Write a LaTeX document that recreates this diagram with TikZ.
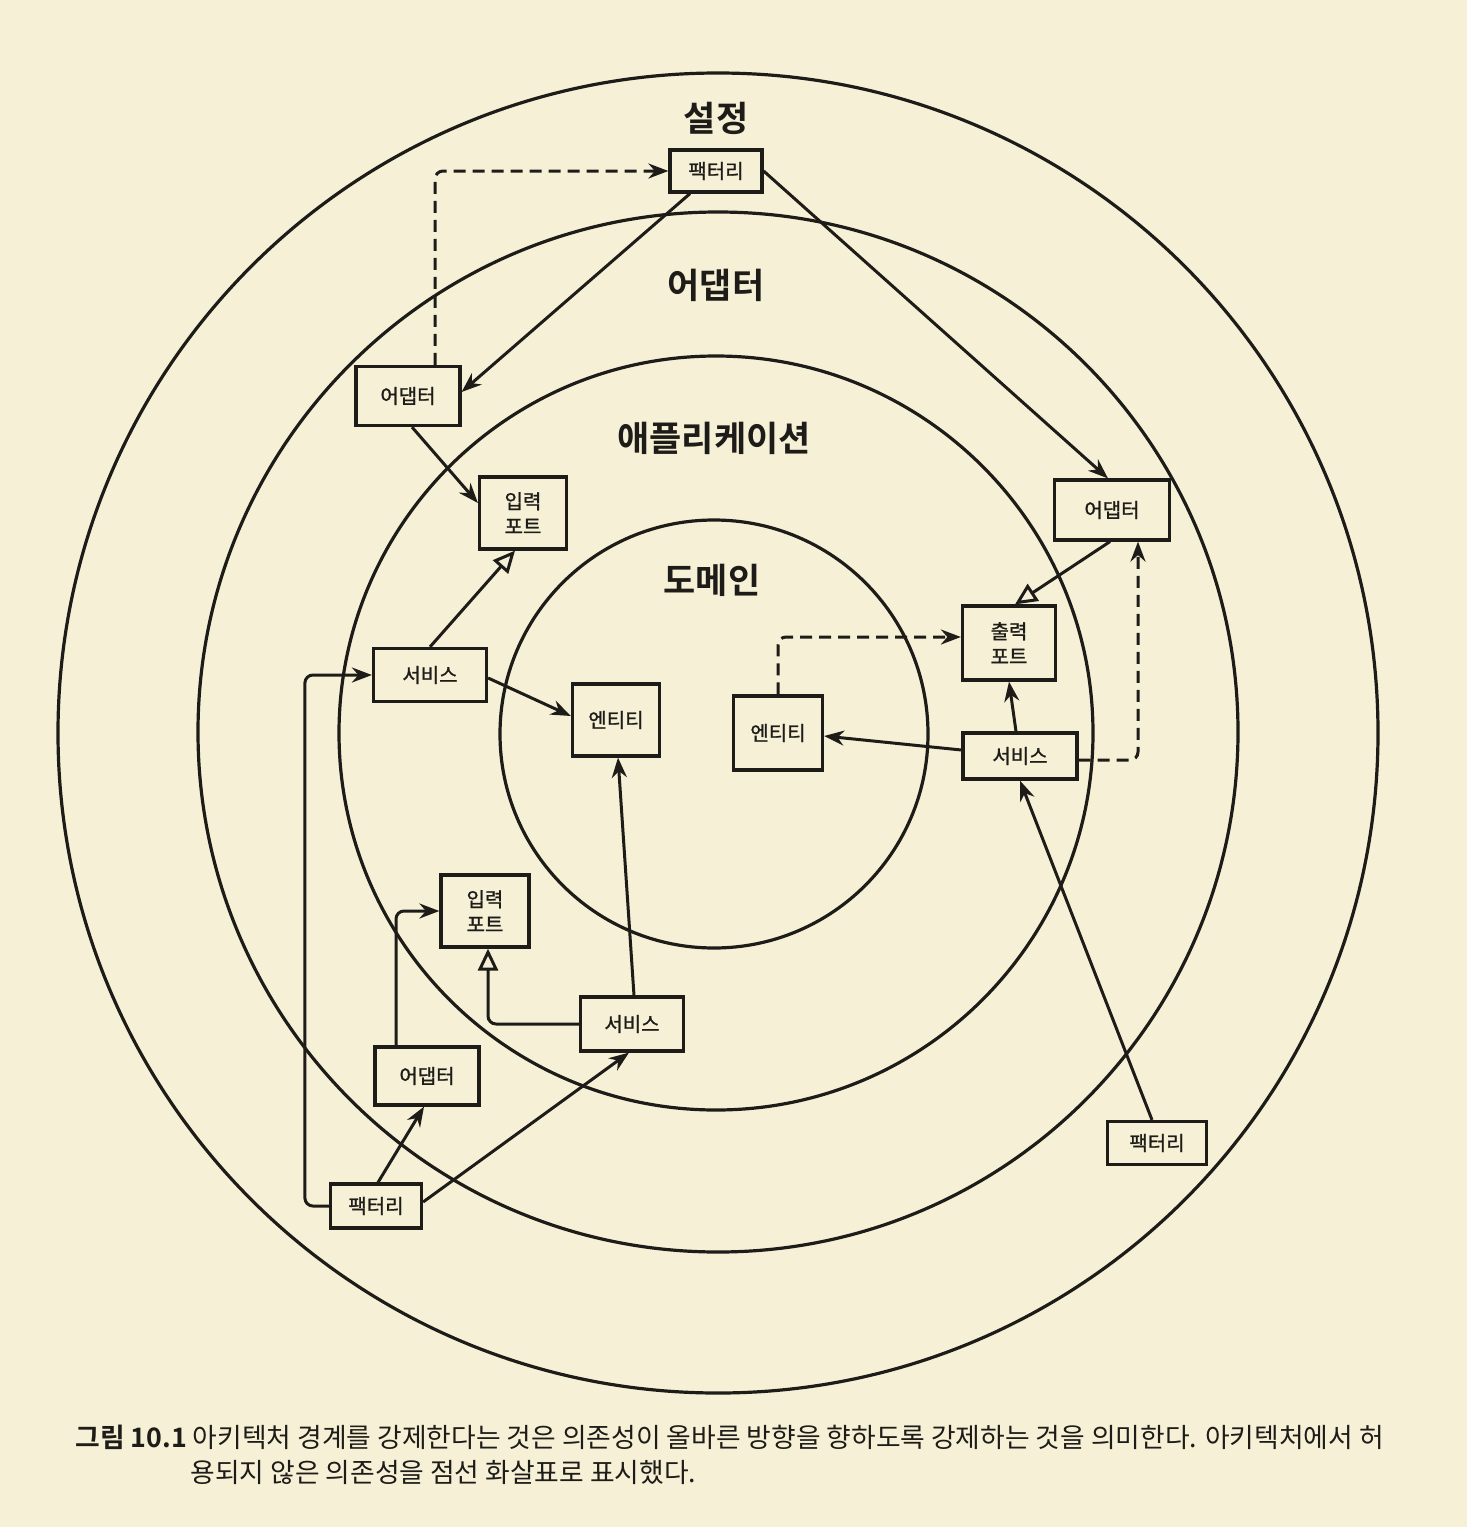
\documentclass[tikz,border=0pt]{standalone}
\usepackage{fontspec}
\setmainfont{Noto Sans CJK KR}[BoldFont={Noto Sans CJK KR Bold}]
\newfontfamily\boxfont{Noto Sans CJK KR}[FakeBold=1.2]
\usetikzlibrary{arrows.meta}
\definecolor{paper}{RGB}{246,241,214}
\definecolor{ink}{RGB}{30,28,24}

\begin{document}
\begin{tikzpicture}[
      x=0.5pt,y=-0.5pt,
      >={Stealth[length=10pt,width=7.5pt]},
      ring/.style={draw=ink,line width=1.6pt},
      layer/.style={text=ink,inner sep=0pt,
        font=\bfseries\fontsize{17.5}{20}\selectfont},
      comp/.style={draw=ink,line width=1.6pt,fill=paper,text=ink,
        align=center,inner sep=0pt,
        font=\boxfont\fontsize{10}{12.5}\selectfont},
      dep/.style={draw=ink,line width=1.5pt,->},
      impl/.style={draw=ink,line width=1.5pt,
        -{Triangle[open,length=11pt,width=10pt]}},
      bad/.style={dep,dash pattern=on 6pt off 3.5pt},
      caption/.style={text=ink,inner sep=0pt,anchor=west,
        font=\fontsize{13.4}{16}\selectfont}
    ]
    % paper and the four rings
    \fill[paper] (0,0) rectangle (1467,1527);
    \draw[ring] (718,733) circle[radius=660];
    \draw[ring] (718,732) circle[radius=520];
    \draw[ring] (716,733) circle[radius=377];
    \draw[ring] (714,734) circle[radius=214];
    % ring names
    \node[layer] (cfg) at (716,118) {설정};
    \node[layer] (adp) at (716,285) {어댑터};
    \node[layer] (app) at (714,438) {애플리케이션};
    \node[layer] (dom) at (712,580) {도메인};
    % upper half
    \node[comp,minimum width=46pt,minimum height=21pt] (facT) at (716,171) {팩터리};
    \node[comp,minimum width=52pt,minimum height=29.5pt] (adL) at (408,396) {어댑터};
    \node[comp,minimum width=43.5pt,minimum height=36pt] (ipT) at (523,513) {입력\\포트};
    \node[comp,minimum width=57.5pt,minimum height=30pt] (adR) at (1112,510) {어댑터};
    \node[comp,minimum width=46.5pt,minimum height=37pt] (outP) at (1009,643) {출력\\포트};
    \node[comp,minimum width=56.5pt,minimum height=26.5pt] (svL) at (430,675) {서비스};
    \node[comp,minimum width=43.5pt,minimum height=36pt] (entL) at (616,720) {엔티티};
    \node[comp,minimum width=44.5pt,minimum height=37pt] (entR) at (778,733) {엔티티};
    \node[comp,minimum width=57pt,minimum height=23pt] (svR) at (1020,756) {서비스};
    % lower half
    \node[comp,minimum width=44pt,minimum height=36pt] (ipB) at (485,911) {입력\\포트};
    \node[comp,minimum width=51.5pt,minimum height=27pt] (svB) at (632,1024) {서비스};
    \node[comp,minimum width=52pt,minimum height=29pt] (adB) at (427,1076) {어댑터};
    \node[comp,minimum width=45.5pt,minimum height=22pt] (facL) at (376,1206) {팩터리};
    \node[comp,minimum width=49.5pt,minimum height=21.5pt] (facR) at (1157,1143) {팩터리};
    % dependencies, top
    \draw[bad,rounded corners=4pt] ([xshift=13.5pt]adL.north) |- (facT.west);
    \draw[dep] ([xshift=-13pt]facT.south) -- ([yshift=2pt]adL.east);
    \draw[dep] (facT.east) -- ([xshift=-2pt]adR.north);
    \draw[dep] ([xshift=2pt]adL.south) -- ([yshift=5pt]ipT.west);
    \draw[impl] (svL.north) -- ([xshift=-4pt]ipT.south);
    \draw[dep] ([yshift=-1.5pt]svL.east) -- ([yshift=2pt]entL.west);
    % dependencies, right
    \draw[impl] ([xshift=-1pt]adR.south) -- ([xshift=3pt]outP.north);
    \draw[bad,rounded corners=4pt] (entR.north) |- ([yshift=3pt]outP.west);
    \draw[dep] ([xshift=-2pt]svR.north) -- (outP.south);
    \draw[dep] ([yshift=3pt]svR.west) -- ([yshift=-1.5pt]entR.east);
    \draw[bad,rounded corners=4pt] ([yshift=-2pt]svR.east) -| ([xshift=13pt]adR.south);
    \draw[dep] ([xshift=-2.5pt]facR.north) -- (svR.south);
    % dependencies, bottom
    \draw[dep] ([xshift=1pt]svB.north) -- ([xshift=1pt]entL.south);
    \draw[impl,rounded corners=4pt] (svB.west) -| ([xshift=1.5pt]ipB.south);
    \draw[dep,rounded corners=4pt] ([xshift=-15.5pt]adB.north) |- (ipB.west);
    \draw[dep] ([xshift=1pt]facL.north) -- ([xshift=-1.5pt]adB.south);
    \draw[dep] ([yshift=2pt]facL.east) -- ([xshift=-1.5pt]svB.south);
    \draw[dep,rounded corners=4pt] (facL.west) -- ++(-24,0) |- (svL.west);
    % caption
    \node[caption] (cap1) at (75,1437)
      {\textbf{그림 10.1} 아키텍처 경계를 강제한다는 것은 의존성이 올바른 방향을 향하도록 강제하는 것을 의미한다. 아키텍처에서 허};
    \node[caption] (cap2) at (190,1472) {용되지 않은 의존성을 점선 화살표로 표시했다.};
  \end{tikzpicture}
\end{document}
